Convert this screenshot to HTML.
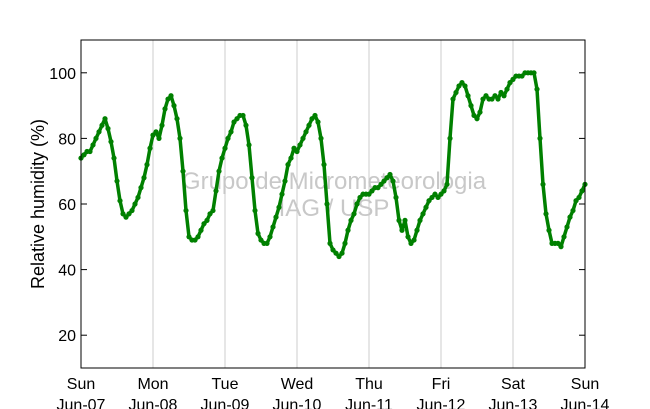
<!DOCTYPE html>
<html><head><meta charset="utf-8"><style>
html,body{margin:0;padding:0;background:#fff;}
svg{display:block;font-family:"Liberation Sans",sans-serif;}
</style></head><body>
<svg id="chart" width="650" height="409">
<rect x="0" y="0" width="650" height="409" fill="#fff"/>
<g id="grid"></g>
<text x="334" y="189" font-size="24" fill="#c8c8c8" text-anchor="middle">Grupo de Micrometeorologia</text>
<text x="334" y="216" font-size="24" fill="#c8c8c8" text-anchor="middle">IAG / USP</text>
<g id="series"></g>
<rect x="81" y="40" width="504" height="328" fill="none" stroke="#000" stroke-width="1"/>
<g id="axes"></g>
<text transform="translate(44,204) rotate(-90)" font-size="18" text-anchor="middle">Relative humidity (%)</text>
</svg>
<script>
const dayLabels = ["Sun","Mon","Tue","Wed","Thu","Fri","Sat","Sun"];
const dateLabels = ["Jun-07","Jun-08","Jun-09","Jun-10","Jun-11","Jun-12","Jun-13","Jun-14"];
const yTicks = [20,40,60,80,100];
// hourly relative humidity values starting Sun Jun-07 00:00
const humidity = [
74,75,76,76,78,80,82,84,86,83,79,74,67,61,57,56,57,58,60,62,65,68,72,77,
81,82,80,84,89,92,93,90,86,80,70,58,50,49,49,50,52,54,55,57,58,64,70,74,
77,80,82,85,86,87,87,84,78,68,58,51,49,48,48,50,53,56,59,63,67,72,74,77,
76,78,80,82,84,86,87,85,80,72,60,48,46,45,44,45,48,52,55,57,60,62,63,63,
63,64,65,65,66,67,68,69,67,62,55,52,55,50,48,49,52,55,57,59,61,62,63,62,
63,64,66,80,92,94,96,97,96,93,90,87,86,88,92,93,92,92,93,92,94,93,95,97,
98,99,99,99,100,100,100,100,95,80,66,57,52,48,48,48,47,50,53,56,58,61,62,64,66
];
const NS="http://www.w3.org/2000/svg";
const X0=81,X1=585,Y0=368,Y1=40,YMIN=10,YMAX=110,HOURS=168;
const xs=h=>X0+(X1-X0)*h/HOURS;
const ys=v=>Y0-(Y0-Y1)*(v-YMIN)/(YMAX-YMIN);
function mk(t,a,p){const e=document.createElementNS(NS,t);for(const k in a)e.setAttribute(k,a[k]);p.appendChild(e);return e;}
const grid=document.getElementById('grid'),axes=document.getElementById('axes'),ser=document.getElementById('series');
dayLabels.forEach((d,i)=>{
  const x=xs(i*24);
  if(i>0&&i<dayLabels.length-1){
    const g=mk('line',{x1:x,x2:x,y1:Y1,y2:Y0,stroke:'#cccccc','stroke-width':1},grid);
    
    
  }
  const t1=mk('text',{x:x,y:389,'font-size':16,'text-anchor':'middle'},axes);t1.textContent=d;
  
  
  const t2=mk('text',{x:x,y:410,'font-size':16,'text-anchor':'middle'},axes);t2.textContent=dateLabels[i];
  
  
});
yTicks.forEach(v=>{
  const y=ys(v);
  mk('line',{x1:X0,x2:X0+6,y1:y,y2:y,stroke:'#000'},axes);
  mk('line',{x1:X1-6,x2:X1,y1:y,y2:y,stroke:'#000'},axes);
  const t=mk('text',{x:76,y:y+6,'font-size':16,'text-anchor':'end'},axes);t.textContent=v;
  
  
});
const pts=humidity.map((v,i)=>xs(i)+','+ys(v)).join(' ');
const pl=mk('polyline',{points:pts,fill:'none',stroke:'#008000','stroke-width':3.5,'stroke-linejoin':'round'},ser);


humidity.forEach((v,i)=>{
  const c=mk('circle',{cx:xs(i),cy:ys(v),r:2.6,fill:'#008000'},ser);
  
  
});
</script>
</body></html>
